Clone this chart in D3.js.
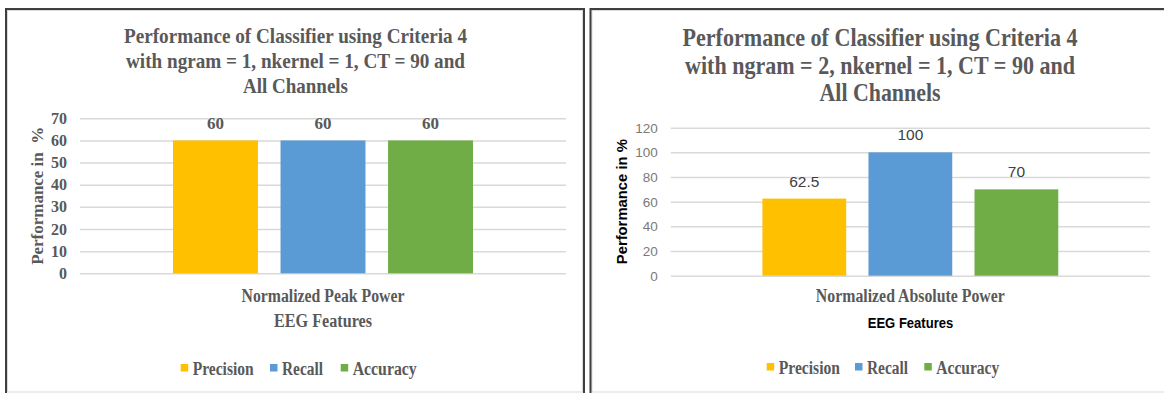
<!DOCTYPE html>
<html>
<head>
<meta charset="utf-8">
<script src="https://cdn.jsdelivr.net/npm/d3@7/dist/d3.min.js"></script>
<style>
  html, body { margin: 0; padding: 0; background: #fff; }
  svg { display: block; }
</style>
</head>
<body>
<svg id="chart" width="1164" height="393"></svg>
<script>
// Series shared by both panels
const series = ["Precision", "Recall", "Accuracy"];
const seriesColors = ["#FFC000", "#5B9BD5", "#70AD47"];

// Left panel: ngram = 1
const leftTitle = [
  "Performance of Classifier using Criteria 4",
  "with ngram = 1, nkernel = 1, CT = 90 and",
  "All Channels"
];
const leftCategories = ["Normalized Peak Power"];
const leftValues = [60, 60, 60];
const leftTicks = [0, 10, 20, 30, 40, 50, 60, 70];
const leftValueLabels = ["60", "60", "60"];

// Right panel: ngram = 2
const rightTitle = [
  "Performance of Classifier using Criteria 4",
  "with ngram = 2, nkernel = 1, CT = 90 and",
  "All Channels"
];
const rightCategories = ["Normalized Absolute Power"];
const rightValues = [62.5, 100, 70];
const rightTicks = [0, 20, 40, 60, 80, 100, 120];
const rightValueLabels = ["62.5", "100", "70"];

const axisTitle = "Performance in %";
const featureTitle = "EEG Features";

const SERIF = "'Liberation Serif', 'Times New Roman', serif";
const SANS = "'Liberation Sans', Arial, sans-serif";
const GRAY = "#595959";

const svg = d3.select("#chart");

function fitText(sel, len) {
  if (len) sel.attr("textLength", len).attr("lengthAdjust", "spacingAndGlyphs");
  return sel;
}

function drawPanel(cfg) {
  const g = svg.append("g");

  // frame
  g.append("rect")
    .attr("x", cfg.frame[0] + 1.5).attr("y", cfg.frame[1] + 1.5)
    .attr("width", cfg.frame[2] - 3).attr("height", cfg.frame[3] - cfg.frame[1] - 1.5)
    .attr("fill", "none").attr("stroke", "#d9d9d9").attr("stroke-width", 1);
  g.append("rect")
    .attr("x", cfg.frame[0]).attr("y", cfg.frame[1])
    .attr("width", cfg.frame[2]).attr("height", 420)
    .attr("fill", "none").attr("stroke", "#3f3f3f").attr("stroke-width", 2);

  // title
  cfg.title.forEach((t, i) => {
    fitText(g.append("text")
      .attr("x", cfg.titleX).attr("y", cfg.titleY[i])
      .attr("text-anchor", "middle")
      .attr("font-family", SERIF).attr("font-weight", "bold")
      .attr("font-size", cfg.titleSize).attr("fill", GRAY)
      .text(t), cfg.titleLen[i]);
  });

  const y = d3.scaleLinear()
    .domain([0, d3.max(cfg.ticks)])
    .range([cfg.plot.bottom, cfg.plot.top]);

  const x0 = d3.scaleBand()
    .domain(cfg.categories)
    .range([cfg.plot.left, cfg.plot.right])
    .paddingInner(0).paddingOuter(0.31);

  const x1 = d3.scaleBand()
    .domain(series)
    .range([0, x0.bandwidth()])
    .paddingInner(0.21).paddingOuter(0);

  const color = d3.scaleOrdinal().domain(series).range(seriesColors);

  // gridlines + tick labels
  const axis = d3.axisLeft(y)
    .tickValues(cfg.ticks)
    .tickSizeInner(-(cfg.plot.right - cfg.plot.left))
    .tickSizeOuter(0)
    .tickPadding(cfg.tickPad)
    .tickFormat(d3.format("d"));

  const ag = g.append("g")
    .attr("transform", `translate(${cfg.plot.left},0)`)
    .call(axis);
  ag.select(".domain").remove();
  ag.selectAll(".tick line").attr("stroke", "#d9d9d9").attr("stroke-width", 1.5);
  ag.selectAll(".tick text")
    .attr("fill", cfg.tickColor)
    .attr("font-family", cfg.tickFont)
    .attr("font-weight", cfg.tickWeight)
    .attr("font-size", cfg.tickSize);

  // bars
  const rows = cfg.categories.map(c => ({
    category: c,
    items: series.map((s, i) => ({ s, v: cfg.values[i], label: cfg.valueLabels[i] }))
  }));

  const cg = g.selectAll(".cat").data(rows).join("g")
    .attr("class", "cat")
    .attr("transform", d => `translate(${x0(d.category)},0)`);

  cg.selectAll("rect").data(d => d.items).join("rect")
    .attr("x", d => x1(d.s))
    .attr("y", d => y(d.v))
    .attr("width", x1.bandwidth())
    .attr("height", d => y(0) - y(d.v))
    .attr("fill", d => color(d.s));

  cg.selectAll("text.val").data(d => d.items).join("text")
    .attr("class", "val")
    .attr("x", d => x1(d.s) + x1.bandwidth() / 2)
    .attr("y", d => y(d.v) - cfg.labelGap)
    .attr("text-anchor", "middle")
    .attr("font-family", cfg.valFont)
    .attr("font-weight", cfg.valWeight)
    .attr("font-size", cfg.valSize)
    .attr("fill", cfg.valColor)
    .text(d => d.label);

  // category label
  cfg.categories.forEach(c => {
    fitText(g.append("text")
      .attr("x", x0(c) + x0.bandwidth() / 2 + cfg.catDx)
      .attr("y", cfg.catY)
      .attr("text-anchor", "middle")
      .attr("font-family", SERIF).attr("font-weight", "bold")
      .attr("font-size", 18.5).attr("fill", GRAY)
      .text(c), cfg.catLen);
  });

  // x axis title
  fitText(g.append("text")
    .attr("x", cfg.featX).attr("y", cfg.featY)
    .attr("text-anchor", "middle")
    .attr("font-family", cfg.featFont).attr("font-weight", "bold")
    .attr("font-size", cfg.featSize).attr("fill", cfg.featColor)
    .text(featureTitle), cfg.featLen);

  // y axis title
  fitText(g.append("text")
    .attr("transform", `translate(${cfg.yTitleX},${(cfg.plot.top + cfg.plot.bottom) / 2}) rotate(-90)`)
    .attr("text-anchor", "middle")
    .attr("dy", "0.35em")
    .attr("font-family", cfg.yTitleFont).attr("font-weight", "bold")
    .attr("font-size", cfg.yTitleSize).attr("fill", cfg.yTitleColor)
    .attr("xml:space", "preserve")
    .text(cfg.yTitleText), cfg.yTitleLen);

  // legend
  const lg = g.append("g");
  series.forEach((s, i) => {
    lg.append("rect")
      .attr("x", cfg.legendX[i]).attr("y", cfg.legendY - 4)
      .attr("width", 7.5).attr("height", 7.5)
      .attr("fill", color(s));
    fitText(lg.append("text")
      .attr("x", cfg.legendX[i] + 12).attr("y", cfg.legendY + 7)
      .attr("font-family", SERIF).attr("font-weight", "bold")
      .attr("font-size", 18.5).attr("fill", GRAY)
      .text(s), cfg.legendLen[i]);
  });
}

drawPanel({
  frame: [6, 9, 578, 392],
  title: leftTitle,
  titleX: 295.5, titleY: [43, 67.7, 92.5], titleSize: 21.5,
  titleLen: [343, 339, 105],
  categories: leftCategories, values: leftValues, valueLabels: leftValueLabels,
  ticks: leftTicks,
  plot: { left: 80, right: 566, top: 118.3, bottom: 273.3 },
  tickPad: 13, tickColor: GRAY, tickFont: SERIF, tickWeight: "bold", tickSize: 16,
  labelGap: 11, valFont: SERIF, valWeight: "bold", valSize: 17, valColor: GRAY,
  catDx: 0, catY: 302, catLen: 163,
  featX: 323, featY: 327, featFont: SERIF, featSize: 18.5, featColor: GRAY, featLen: 98,
  yTitleX: 37, yTitleFont: SERIF, yTitleSize: 17, yTitleColor: GRAY,
  yTitleText: "Performance in  %", yTitleLen: 138,
  legendX: [180.7, 270, 340.7], legendY: 368, legendLen: [61, 41, 64]
});

drawPanel({
  frame: [590.5, 9, 600, 392],
  title: rightTitle,
  titleX: 880, titleY: [45.7, 74, 101], titleSize: 24.5,
  titleLen: [395, 390, 121],
  categories: rightCategories, values: rightValues, valueLabels: rightValueLabels,
  ticks: rightTicks,
  plot: { left: 670.7, right: 1150, top: 127.7, bottom: 275.7 },
  tickPad: 13, tickColor: "#7a7a7a", tickFont: SANS, tickWeight: "normal", tickSize: 13.5,
  labelGap: 12, valFont: SANS, valWeight: "normal", valSize: 15.5, valColor: "#404040",
  catDx: 0, catY: 302, catLen: 189,
  featX: 910.5, featY: 328, featFont: SANS, featSize: 15.5, featColor: "#000", featLen: 85.6,
  yTitleX: 622, yTitleFont: SANS, yTitleSize: 15.5, yTitleColor: "#000",
  yTitleText: axisTitle, yTitleLen: 125,
  legendX: [766.7, 855, 924.3], legendY: 367, legendLen: [61.3, 41, 63]
});
</script>
</body>
</html>
